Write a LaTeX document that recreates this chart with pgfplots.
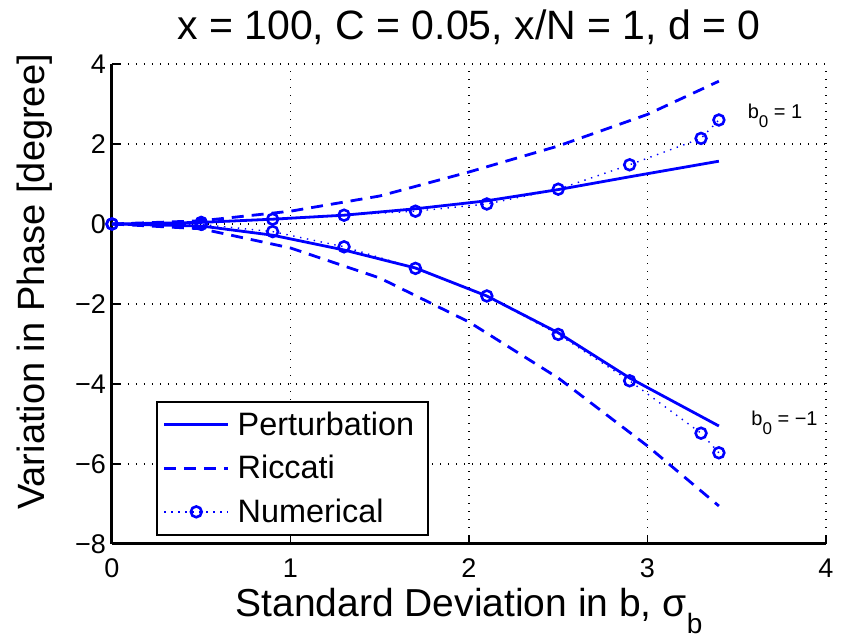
\documentclass[border=0pt]{standalone}
\usepackage{pgfplots}
\pgfplotsset{compat=1.18}
\usepackage{fontspec}
\setmainfont{Liberation Sans}
\definecolor{mblue}{RGB}{0,0,255}
\pgfplotsset{
  numleg/.style={legend image code/.code={\draw[##1, mark repeat=2, mark phase=2] plot coordinates {(0pt,0pt) (16pt,0pt) (32pt,0pt)};}}
}
\begin{document}
\begin{tikzpicture}
\path[use as bounding box] (-56pt,-48pt) rectangle (364.5pt,272pt);
\begin{axis}[
  scale only axis, width=357pt, height=240pt,
  xmin=0, xmax=4, ymin=-8, ymax=4,
  xtick={0,1,2,3,4}, ytick={-8,-6,-4,-2,0,2,4},
  xticklabels={0,1,2,3,4}, yticklabels={−8,−6,−4,−2,0,2,4},
  axis x line*=bottom, axis y line*=left,
  axis line style={line width=1.5pt, black},
  tick align=inside, major tick length=4pt,
  tick style={line width=0.8pt, black},
  grid=major,
  grid style={black, line width=0.7pt, dash pattern=on 0.7pt off 3.3pt},
  ticklabel style={font=\fontsize{13.5}{15}\selectfont},
  yticklabel style={xshift=0.5pt},
  xticklabel style={yshift=-4pt},
  title={x = 100, C = 0.05, x/N = 1, d = 0},
  title style={font=\fontsize{20.5}{23}\selectfont, at={(axis description cs:0.5,1)}, anchor=base, yshift=6pt},
  xlabel={Standard Deviation in b, σ\raisebox{-0.42em}{\fontsize{14}{15}\selectfont b}},
  xlabel style={font=\fontsize{19.5}{21}\selectfont, at={(axis description cs:0.5,0)}, anchor=base, yshift=-36.5pt},
  ylabel={Variation in Phase [degree]},
  ylabel style={font=\fontsize{19}{21}\selectfont, at={(axis description cs:0,0.546)}, anchor=base, yshift=33.5pt},
  legend style={at={(axis description cs:0.0616,0.0167)}, anchor=south west,
    draw=black, line width=0.9pt, font=\fontsize{16.2}{17}\selectfont,
    inner xsep=3pt, inner ysep=3pt, row sep=4.5pt,
    nodes={inner xsep=4pt}},
  legend cell align=left,
  legend image code/.code={\draw[#1] plot coordinates {(0pt,0pt) (16pt,0pt) (32pt,0pt)};},
]
% upper branch (b0 = 1)
\addplot[mblue, line width=1.4pt] coordinates {
 (0,0) (0.5,0.04) (0.9,0.12) (1.3,0.22) (1.7,0.38) (2.1,0.58) (2.5,0.86) (2.9,1.18) (3.4,1.57)};
\addlegendentry{Perturbation}
\addplot[mblue, line width=1.4pt, dash pattern=on 6pt off 4pt] coordinates {
 (0,0) (0.5,0.08) (1,0.32) (1.5,0.7) (2,1.3) (2.5,1.95) (3,2.74) (3.4,3.57)};
\addlegendentry{Riccati}
\addplot[mblue, line width=0.7pt, dash pattern=on 0.7pt off 2.8pt,
  mark=o, mark size=2.7pt, mark options={solid, line width=1.3pt}, numleg] coordinates {
 (0,0) (0.5,0.04) (0.9,0.12) (1.3,0.22) (1.7,0.32) (2.1,0.5) (2.5,0.87) (2.9,1.48) (3.3,2.14) (3.4,2.6)};
\addlegendentry{Numerical}
% lower branch (b0 = -1)
\addplot[mblue, line width=1.4pt, forget plot] coordinates {
 (0,0) (0.5,-0.05) (0.9,-0.28) (1.3,-0.65) (1.7,-1.1) (2.1,-1.8) (2.5,-2.72) (2.9,-3.85) (3.4,-5.05)};
\addplot[mblue, line width=1.4pt, dash pattern=on 6pt off 4pt, forget plot] coordinates {
 (0,0) (0.5,-0.12) (1,-0.6) (1.5,-1.35) (2,-2.45) (2.5,-3.85) (3,-5.55) (3.4,-7.05)};
\addplot[mblue, line width=0.7pt, dash pattern=on 0.7pt off 2.8pt,
  mark=o, mark size=2.7pt, mark options={solid, line width=1.3pt}, forget plot] coordinates {
 (0,0) (0.5,-0.01) (0.9,-0.19) (1.3,-0.57) (1.7,-1.11) (2.1,-1.8) (2.5,-2.76) (2.9,-3.92) (3.3,-5.23) (3.4,-5.72)};
\node[anchor=base west, font=\fontsize{10}{12}\selectfont, inner sep=0pt] at (axis cs:3.56,2.63)
  {b\raisebox{-0.45em}{\fontsize{8.5}{9}\selectfont 0} = 1};
\node[anchor=base west, font=\fontsize{10}{12}\selectfont, inner sep=0pt] at (axis cs:3.58,-5.03)
  {b\raisebox{-0.45em}{\fontsize{8.5}{9}\selectfont 0} = −1};
\end{axis}
\end{tikzpicture}
\end{document}
